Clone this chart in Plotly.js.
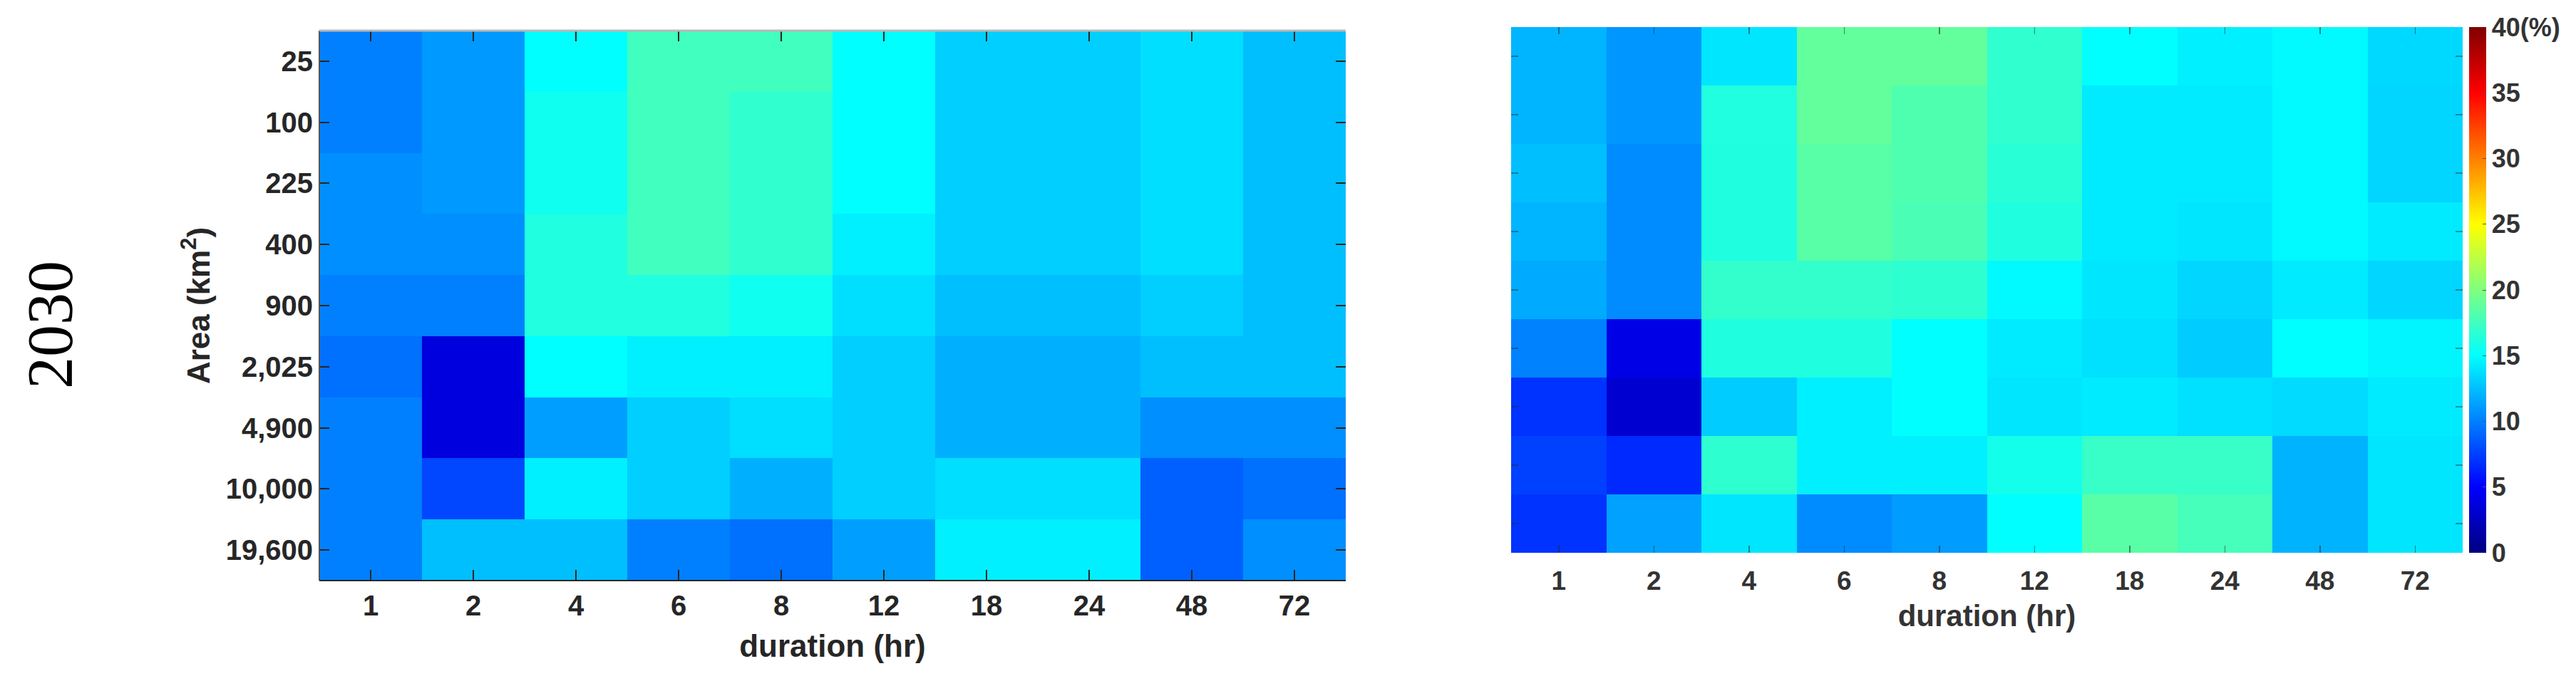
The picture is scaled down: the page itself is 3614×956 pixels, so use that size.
<!DOCTYPE html>
<html>
<head>
<meta charset="utf-8">
<script src="https://cdn.plot.ly/plotly-3.0.1.min.js"></script>
<style>
  html, body { margin: 0; padding: 0; background: #ffffff; }
  #chart { width: 3614px; height: 956px; }
</style>
</head>
<body>
<div id="chart"></div>
<script>
// ---- data ----
const durations = ['1', '2', '4', '6', '8', '12', '18', '24', '48', '72'];
const areas = ['25', '100', '225', '400', '900', '2,025', '4,900', '10,000', '19,600'];
const colorbarTicks = [0, 5, 10, 15, 20, 25, 30, 35, 40];
const colorbarLabels = ['0', '5', '10', '15', '20', '25', '30', '35', '40(%)'];
const rowLabel = '2030';

// left panel (rows = areas top→bottom, columns = durations)
const leftValues = [
  [10.0, 11.0, 15.0, 17.5, 17.5, 15.0, 13.1, 13.1, 13.75, 12.5],
  [10.0, 11.0, 15.6, 17.5, 16.9, 15.0, 13.1, 13.1, 13.75, 12.5],
  [10.6, 11.0, 15.6, 17.5, 16.9, 15.0, 13.1, 13.1, 13.75, 12.5],
  [10.6, 10.6, 16.25, 17.5, 16.9, 14.4, 13.1, 13.1, 13.75, 12.5],
  [10.0, 10.0, 16.25, 16.25, 15.6, 13.75, 12.5, 12.5, 13.1, 12.5],
  [9.4, 3.75, 15.0, 14.4, 14.4, 13.1, 11.9, 11.9, 12.5, 12.5],
  [10.0, 3.75, 11.25, 13.1, 13.75, 13.1, 11.9, 11.9, 10.6, 10.6],
  [10.0, 7.8, 14.4, 13.1, 11.9, 13.1, 13.75, 13.75, 8.75, 9.4],
  [10.0, 12.5, 12.5, 10.0, 9.4, 11.25, 14.4, 14.4, 8.75, 10.6]
];

// right panel
const rightValues = [
  [12.1, 10.9, 14.0, 18.9, 18.9, 16.9, 15.0, 14.4, 14.8, 13.5],
  [12.1, 10.9, 16.25, 18.9, 18.1, 16.9, 14.2, 14.2, 14.8, 13.4],
  [12.5, 10.5, 16.2, 18.5, 18.1, 16.6, 14.2, 14.2, 14.8, 13.4],
  [12.1, 10.5, 16.2, 18.5, 17.9, 16.2, 14.2, 14.0, 14.8, 14.2],
  [11.7, 10.5, 17.0, 17.0, 16.8, 14.8, 14.0, 13.4, 14.2, 13.4],
  [10.1, 4.0, 16.2, 16.2, 15.0, 14.2, 13.8, 13.0, 15.0, 14.6],
  [7.0, 3.2, 13.0, 14.4, 15.0, 14.0, 14.2, 13.8, 13.6, 14.2],
  [7.5, 6.6, 16.8, 14.4, 14.4, 15.8, 17.2, 17.2, 12.0, 14.0],
  [7.0, 11.3, 14.0, 10.5, 11.1, 15.0, 18.5, 17.7, 12.0, 14.0]
];

// ---- styling ----
const W = 3614, H = 956;
const jet = [
  [0, 'rgb(0,0,128)'], [0.125, 'rgb(0,0,255)'], [0.375, 'rgb(0,255,255)'],
  [0.625, 'rgb(255,255,0)'], [0.875, 'rgb(255,0,0)'], [1, 'rgb(128,0,0)']
];
const ink = '#262626';
const sans = 'Liberation Sans, Arial, sans-serif';
const px = v => v / W;
const py = v => 1 - v / H;

const traces = [
  {
    type: 'heatmap', x: durations, y: areas, z: leftValues,
    xaxis: 'x', yaxis: 'y', colorscale: jet, zmin: 0, zmax: 40,
    showscale: false, hoverongaps: false
  },
  {
    type: 'heatmap', x: durations, y: areas, z: rightValues,
    xaxis: 'x2', yaxis: 'y2', colorscale: jet, zmin: 0, zmax: 40,
    showscale: true,
    colorbar: {
      x: px(3464), xanchor: 'left', xpad: 0,
      y: py(776), yanchor: 'bottom', ypad: 0,
      len: (776 - 38) / H, lenmode: 'fraction',
      thickness: 24, thicknessmode: 'pixels',
      outlinewidth: 0,
      tickmode: 'array', tickvals: colorbarTicks, ticktext: colorbarLabels,
      ticks: 'inside', ticklen: 5, tickcolor: '#555',
      tickfont: { family: sans, size: 36, weight: 'bold', color: '#333' }
    }
  }
];

const tickFontL = { family: sans, size: 40, weight: 'bold', color: ink };
const titleFontL = { family: sans, size: 44, weight: 'bold', color: ink };
const tickFontR = { family: sans, size: 37, weight: 'bold', color: '#333' };
const titleFontR = { family: sans, size: 42, weight: 'bold', color: '#333' };

const layout = {
  width: W, height: H,
  margin: { l: 0, r: 0, t: 0, b: 0, pad: 0 },
  paper_bgcolor: '#ffffff', plot_bgcolor: '#ffffff',
  showlegend: false,
  xaxis: {
    domain: [px(448), px(1888)], anchor: 'y', type: 'category',
    ticks: 'inside', ticklen: 15, tickwidth: 1.5, tickcolor: ink, mirror: 'ticks',
    showline: false, showgrid: false, zeroline: false,
    tickfont: tickFontL, ticklabelstandoff: 8,
    title: { text: 'duration (hr)', font: titleFontL, standoff: 20 }
  },
  yaxis: {
    domain: [py(815), py(43)], anchor: 'x', type: 'category', autorange: 'reversed',
    ticks: 'inside', ticklen: 14, tickwidth: 2, tickcolor: ink, mirror: 'ticks',
    showline: false, showgrid: false, zeroline: false,
    tickfont: tickFontL, ticklabelstandoff: 8,
    title: { text: 'Area (km<sup>2</sup>)', font: titleFontL, standoff: 8 }
  },
  xaxis2: {
    domain: [px(2120), px(3455)], anchor: 'y2', type: 'category',
    ticks: 'inside', ticklen: 10, tickwidth: 1.5, tickcolor: 'rgba(40,40,40,0.55)', mirror: 'ticks',
    showline: false, showgrid: false, zeroline: false,
    tickfont: tickFontR, ticklabelstandoff: 14,
    title: { text: 'duration (hr)', font: titleFontR, standoff: 14 }
  },
  yaxis2: {
    domain: [py(776), py(38)], anchor: 'x2', type: 'category', autorange: 'reversed',
    ticks: 'inside', ticklen: 10, tickwidth: 1.5, tickcolor: 'rgba(40,40,40,0.45)', mirror: 'ticks',
    showline: false, showgrid: false, zeroline: false, showticklabels: false
  },
  shapes: [
    { type: 'line', xref: 'x domain', yref: 'y domain', x0: 0, x1: 1, y0: 0, y1: 0,
      line: { color: ink, width: 2 } },
    { type: 'line', xref: 'x domain', yref: 'y domain', x0: 0, x1: 0, y0: 0, y1: 1,
      line: { color: '#555555', width: 2 } },
    { type: 'line', xref: 'x domain', yref: 'y domain', x0: 0, x1: 1, y0: 1, y1: 1,
      line: { color: '#b8b8b8', width: 3 } }
  ],
  annotations: [
    { text: rowLabel, xref: 'paper', yref: 'paper', x: px(70), y: py(456),
      xanchor: 'center', yanchor: 'middle', textangle: -90, showarrow: false,
      font: { family: 'Liberation Serif, Times New Roman, serif', size: 90, color: '#000' } }
  ]
};

Plotly.newPlot('chart', traces, layout, { staticPlot: true, displayModeBar: false });
</script>
</body>
</html>
